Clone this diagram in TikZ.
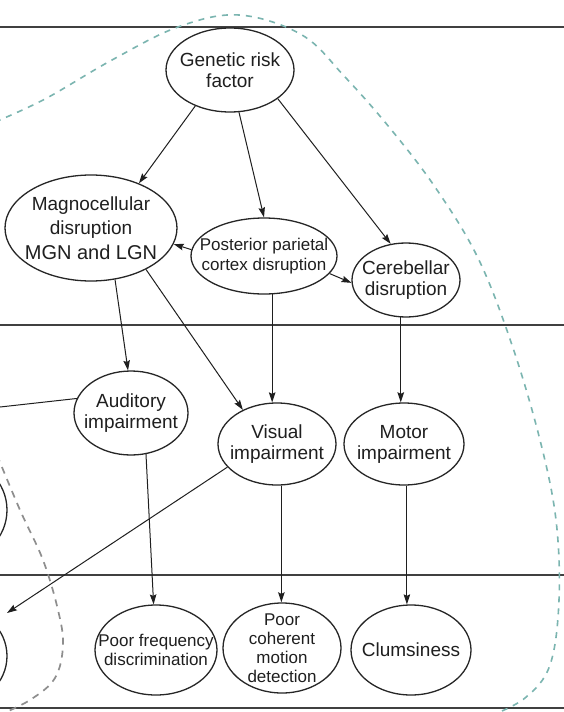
\documentclass[tikz,border=0pt]{standalone}
\usepackage{fontspec}
\setmainfont{Liberation Sans}
\usetikzlibrary{shapes.geometric,arrows.meta}
\newcommand\fsz[2]{\fontsize{#1}{#2}\selectfont}
\definecolor{tealdash}{HTML}{7BB5B0}
\definecolor{graydash}{HTML}{8E8E8E}
\begin{document}
\begin{tikzpicture}[x=1pt,y=-1pt,
  ell/.style={ellipse,draw=black!85,line width=1.3pt,inner sep=0pt},
  txt/.style={align=center,inner sep=0pt,text=black!88},
  arr/.style={-{Stealth[length=10pt,width=6.5pt,inset=1.5pt]},line width=1pt,draw=black!88},
  thickarr/.style={arr,line width=1.5pt},
  sepline/.style={line width=2.5pt,draw=black!75},
  tealcurve/.style={draw=tealdash,line width=1.6pt,dash pattern=on 6pt off 6pt},
  graycurve/.style={draw=graydash,line width=1.7pt,dash pattern=on 7pt off 6pt}
]
\useasboundingbox (0,0) rectangle (564,712);
\fill[white] (0,0) rectangle (564,712);
\clip (0,0) rectangle (564,712);

% section lines
\draw[sepline] (0,27) -- (564,27);
\draw[sepline] (0,325) -- (564,325);
\draw[sepline] (0,575) -- (564,575);
\draw[sepline] (0,708) -- (564,708);

% dashed enclosing curves
\draw[tealcurve] plot[smooth,tension=0.6] coordinates {(-5,122) (45,99) (112,60) (178,27) (239,15) (302,35) (345,77) (389,127) (435,187) (478,258) (512,345) (540,440) (556,520) (559,600) (550,665) (525,698) (490,716)};
\draw[graycurve] plot[smooth,tension=0.6] coordinates {(-3,455) (20,510) (43,560) (58,610) (63,645) (55,678) (30,700) (-3,716)};

% ellipses
\node[ell,minimum width=128pt,minimum height=84pt] (gen) at (230,70) {};
\node[ell,minimum width=172pt,minimum height=106pt] (magno) at (91,228) {};
\node[ell,minimum width=146pt,minimum height=76pt] (post) at (264,256) {};
\node[ell,minimum width=108pt,minimum height=74pt] (cereb) at (406,280) {};
\node[ell,minimum width=114pt,minimum height=84pt] (aud) at (131,413) {};
\node[ell,minimum width=118pt,minimum height=82pt] (vis) at (277,444) {};
\node[ell,minimum width=120pt,minimum height=82pt] (motor) at (404,444) {};
\node[ell,minimum width=122pt,minimum height=90pt] (freq) at (156,650) {};
\node[ell,minimum width=118pt,minimum height=90pt] (coh) at (282,648) {};
\node[ell,minimum width=120pt,minimum height=90pt] (clum) at (411,650) {};
\node[ell,minimum width=100pt,minimum height=100pt] (leftmid) at (-43,510) {};
\node[ell,minimum width=100pt,minimum height=96pt] (leftlow) at (-43,656) {};

% texts
\node[txt,font=\fsz{19}{21}] (genT) at (gen) {Genetic risk\\factor};
\node[txt,font=\fsz{19}{24.5}] (magnoT) at (magno) {Magnocellular\\disruption\\{\fsz{20}{24.5}MGN and LGN}};
\node[txt,font=\fsz{17}{20}] (postT) at (post) {Posterior parietal\\cortex disruption};
\node[txt,font=\fsz{19}{21}] (cerebT) at (cereb) {Cerebellar\\disruption};
\node[txt,font=\fsz{19}{21}] (audT) at (aud) {Auditory\\impairment};
\node[txt,font=\fsz{19}{21}] (visT) at (vis) {Visual\\impairment};
\node[txt,font=\fsz{19}{21}] (motorT) at (motor) {Motor\\impairment};
\node[txt,font=\fsz{17}{19}] (freqT) at (freq) {Poor frequency\\discrimination};
\node[txt,font=\fsz{17}{19}] (cohT) at (coh) {Poor\\coherent\\motion\\detection};
\node[txt,font=\fsz{19}{21}] (clumT) at (clum) {Clumsiness};

% free ends
\coordinate (audout) at (0,407);
\coordinate (visout) at (7,613);

% connectors
\draw[arr] (gen.226) -- (magno.43);
\draw[arr] (gen.282) -- (post.90);
\draw[arr] (gen.329) -- (cereb.113);
\draw[arr] (post.175) -- (magno.349);
\draw[arr] (post.345) -- (cereb.183);
\draw[arr] (magno.295) -- (aud.94);
\draw[arr] (magno.323) -- (vis.135);
\draw[arr] (post.282) -- (post.282 |- vis.north);
\draw[thickarr] (cereb.262) -- (cereb.262 |- motor.north);
\draw[arr] (aud.290) -- (freq.93);
\draw[thickarr] (vis.276) -- (vis.276 |- coh.north);
\draw[arr] (motor.274) -- (motor.274 |- clum.north);
\draw[line width=1pt,draw=black!88] (aud.165) -- (audout);
\draw[arr] (vis.205) -- (visout);
\end{tikzpicture}
\end{document}
